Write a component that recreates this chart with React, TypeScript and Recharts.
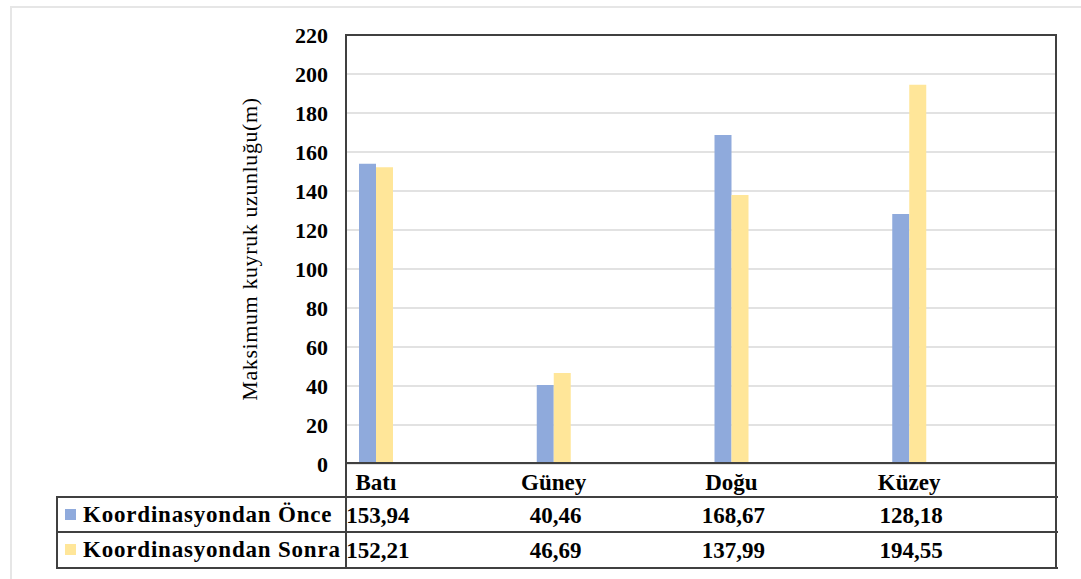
import React from 'react';
import { BarChart, Bar, XAxis, YAxis, CartesianGrid } from 'recharts';

const categories = ['Batı', 'Güney', 'Doğu', 'Küzey'];
const onceValues = [153.94, 40.46, 168.67, 128.18];
const sonraValues = [152.21, 46.69, 137.99, 194.55];
const yTicks = [0, 20, 40, 60, 80, 100, 120, 140, 160, 180, 200, 220];

const seriesNames = ['Koordinasyondan Önce', 'Koordinasyondan Sonra'];
const BLUE = '#8FAADC';
const YELLOW = '#FFE699';
const LINE = '#404040';
const SERIF = 'Liberation Serif, DejaVu Serif, serif';

// bars sit at the left of each category band, the rest of the band is an empty slot
const BAR_W = 17;
const SPACER_W = 118;

const data = categories.map((c, i) => ({ name: c, once: onceValues[i], sonra: sonraValues[i] }));

const fmt = (v: number) => v.toFixed(2).replace('.', ',');

// category label + the two value cells of the data table under each band
function TableTick(props: any) {
  const { x, y, payload, index } = props;
  const cx = x - SPACER_W / 2;
  const style = { fontFamily: SERIF, fontWeight: 700, fontSize: 23, fill: '#000' } as const;
  return (
    <g>
      <text x={cx} y={y + 18} textAnchor="middle" dominantBaseline="central" style={style}>
        {payload.value}
      </text>
      <text x={cx + 2} y={y + 51} textAnchor="middle" dominantBaseline="central" style={style}>
        {fmt(onceValues[index])}
      </text>
      <text x={cx + 2} y={y + 86} textAnchor="middle" dominantBaseline="central" style={style}>
        {fmt(sonraValues[index])}
      </text>
    </g>
  );
}

export default function App() {
  const line = (l: number, t: number, w: number, h: number) => (
    <div style={{ position: 'absolute', left: l, top: t, width: w, height: h, background: LINE }} />
  );

  return (
    <div style={{ position: 'absolute', left: 0, top: 0, width: 1081, height: 579, background: '#fff', overflow: 'hidden' }}>
      {/* light outer frame */}
      <div style={{ position: 'absolute', left: 10, top: 6, width: 1100, height: 600, border: '2px solid #e6e6e6' }} />

      <BarChart
        width={1081}
        height={579}
        data={data}
        margin={{ top: 35, right: 24, left: 286, bottom: 0 }}
        barGap={0}
        style={{ position: 'absolute', left: 0, top: 0 }}
      >
        <CartesianGrid vertical={false} stroke="#d9d9d9" strokeWidth={1.5} />
        <XAxis
          dataKey="name"
          height={115}
          axisLine={false}
          tickLine={false}
          tickSize={0}
          tickMargin={0}
          interval={0}
          tick={<TableTick />}
        />
        <YAxis
          width={60}
          domain={[0, 220]}
          ticks={yTicks}
          axisLine={false}
          tickLine={false}
          tickSize={0}
          tickMargin={18}
          tick={{ fontFamily: SERIF, fontWeight: 700, fontSize: 22, fill: '#000' }}
        />
        <Bar dataKey="once" name={seriesNames[0]} fill={BLUE} barSize={BAR_W} isAnimationActive={false} />
        <Bar dataKey="sonra" name={seriesNames[1]} fill={YELLOW} barSize={BAR_W} isAnimationActive={false} />
        <Bar dataKey="gap" fill="none" barSize={SPACER_W} legendType="none" isAnimationActive={false} />
      </BarChart>

      {/* y axis title */}
      <div
        style={{
          position: 'absolute',
          left: 250,
          top: 249,
          transform: 'translate(-50%, -50%) rotate(-90deg)',
          whiteSpace: 'nowrap',
          fontFamily: SERIF,
          fontSize: 22,
          letterSpacing: 0.6,
          color: '#000',
        }}
      >
        Maksimum kuyruk uzunluğu(m)
      </div>

      {/* plot frame */}
      <div style={{ position: 'absolute', left: 345, top: 34, width: 712, height: 430, border: `2px solid ${LINE}`, boxSizing: 'border-box' }} />

      {/* data table lines */}
      {line(56, 496, 1002, 2)}
      {line(56, 531, 1002, 2)}
      {line(56, 567, 1002, 2)}
      {line(56, 496, 2, 73)}
      {line(345, 462, 2, 107)}
      {line(1055, 462, 2, 107)}

      {/* legend keys of the table rows */}
      {seriesNames.map((n, i) => (
        <div
          key={n}
          style={{
            position: 'absolute',
            left: 65,
            top: 497 + i * 35,
            height: 35,
            display: 'flex',
            alignItems: 'center',
            fontFamily: SERIF,
            fontWeight: 700,
            fontSize: 23,
            letterSpacing: 0.8,
            color: '#000',
            whiteSpace: 'nowrap',
          }}
        >
          <span style={{ display: 'inline-block', width: 11, height: 11, background: i === 0 ? BLUE : YELLOW, marginRight: 7 }} />
          {n}
        </div>
      ))}
    </div>
  );
}
